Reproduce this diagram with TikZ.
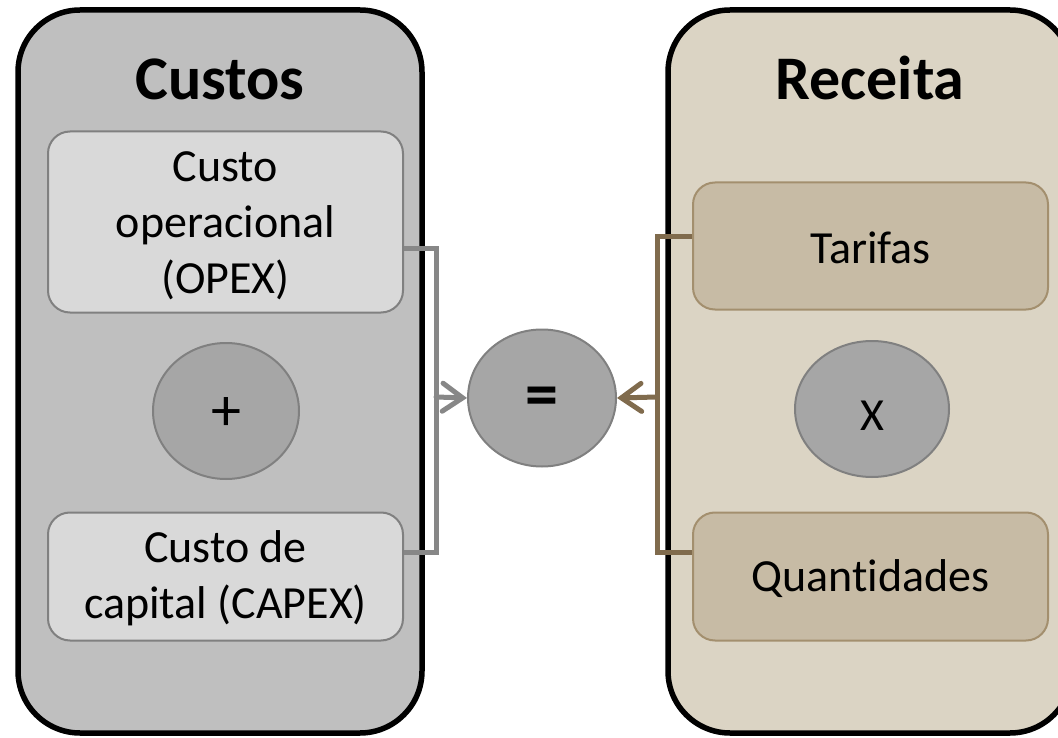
\documentclass[tikz,border=0pt]{standalone}
\usepackage{fontspec}
\setmainfont{Carlito}[Ligatures=NoCommon]
\usetikzlibrary{shapes.geometric,arrows.meta}
\definecolor{grayouter}{HTML}{BFBFBF}
\definecolor{grayinner}{HTML}{D9D9D9}
\definecolor{grayline}{HTML}{808080}
\definecolor{circfill}{HTML}{A6A6A6}
\definecolor{circline}{HTML}{808080}
\definecolor{grayconn}{HTML}{878787}
\definecolor{tanouter}{HTML}{DBD4C4}
\definecolor{taninner}{HTML}{C7BBA5}
\definecolor{tanline}{HTML}{A38F6E}
\definecolor{brownconn}{HTML}{806B4D}
\newcommand{\lowerby}[2]{\raisebox{-#1}[\height][\depth]{#2}}
\begin{document}
\begin{tikzpicture}[x=1pt,y=-1pt,
  outerbox/.style={draw=black, line width=5.5pt, rounded corners=62pt, inner sep=0pt},
  innerbox/.style={rounded corners=22pt, line width=2pt, inner sep=0pt, align=center,
    font=\fontsize{46}{56}\selectfont},
  opnode/.style={ellipse, draw=circline, fill=circfill, line width=2pt, inner sep=0pt,
    font=\fontsize{46}{56}\selectfont},
  titlenode/.style={font=\fontsize{62}{70}\selectfont\bfseries, anchor=base, inner sep=0pt},
  connline/.style={line width=5pt},
  arrline/.style={line width=5pt, line cap=round, -{Straight Barb[length=20pt,width=28pt,line cap=round]}}
]
\useasboundingbox (0,0) rectangle (1058,738);
\clip (0,0) rectangle (1058,738);
\fill[white] (0,0) rectangle (1058,738);

% outer containers
\node[outerbox, fill=grayouter, minimum width=404pt, minimum height=723pt] (cust) at (220,371.5) {};
\node[outerbox, fill=tanouter, minimum width=404pt, minimum height=723pt] (rec) at (870,371.5) {};

% titles
\node[titlenode] (tcust) at (220,100) {Custos};
\node[titlenode] (trec) at (870,100) {Receita};

% inner boxes
\node[innerbox, draw=grayline, fill=grayinner, minimum width=355pt, minimum height=181pt] (opex) at (225.5,222) {\lowerby{4pt}{\begin{tabular}{@{}c@{}}Custo\\operacional\\(OPEX)\end{tabular}}};
\node[innerbox, draw=grayline, fill=grayinner, minimum width=355pt, minimum height=128pt] (capex) at (225.5,576.5) {\lowerby{3pt}{\begin{tabular}{@{}c@{}}Custo de\\capital (CAPEX)\end{tabular}}};
\node[innerbox, draw=tanline, fill=taninner, minimum width=355pt, minimum height=127pt] (tar) at (870.5,246) {\lowerby{2pt}{Tarifas}};
\node[innerbox, draw=tanline, fill=taninner, minimum width=355pt, minimum height=128pt] (qua) at (870.5,576.5) {\lowerby{2pt}{Quantidades}};

% operators
\node[opnode, minimum width=146pt, minimum height=136pt, font=\fontsize{60}{62}\selectfont] (plus) at (226,411) {\lowerby{3.5pt}{+}};
\node[opnode, minimum width=154pt, minimum height=136pt] (times) at (872,409) {\lowerby{7pt}{X}};
\node[opnode, minimum width=148pt, minimum height=137pt, font=\fontsize{66}{68}\selectfont\bfseries] (eq) at (542,398) {\lowerby{3.5pt}{=}};

% connectors
\coordinate (lj) at (436,397);
\coordinate (rj) at (657,397);
\draw[connline, grayconn] (opex.east |- 0,249) -| (lj) |- (capex.east |- 0,552);
\draw[arrline, grayconn] (lj) -- (eq.west);
\draw[connline, brownconn] (tar.west |- 0,237) -| (rj) |- (qua.west |- 0,552);
\draw[arrline, brownconn] (rj) -- (eq.east);
\end{tikzpicture}
\end{document}
